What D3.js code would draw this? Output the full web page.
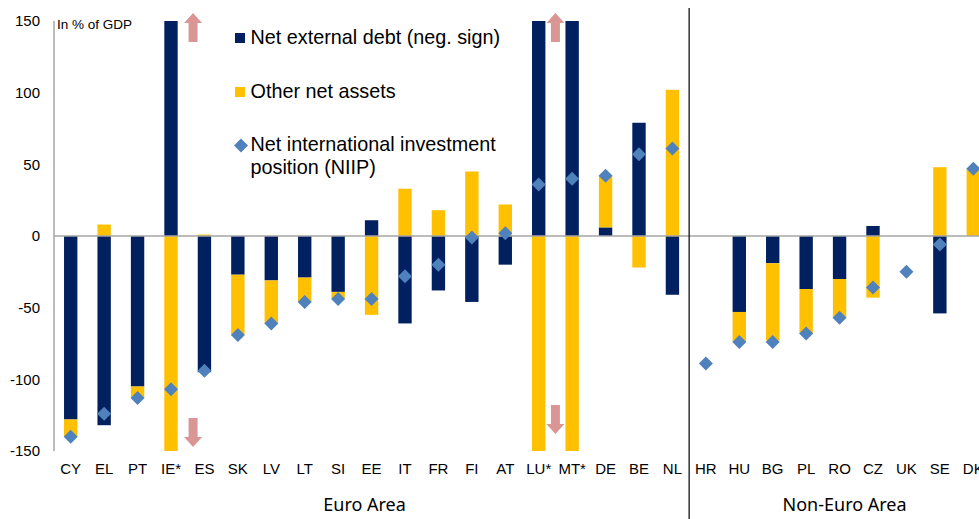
<!DOCTYPE html>
<html>
<head>
<meta charset="utf-8">
<script src="https://cdn.jsdelivr.net/npm/d3@7"></script>
<style>
  body { margin: 0; background: #fff; }
  svg { display: block; }
  text { font-family: "Liberation Sans", Arial, sans-serif; fill: #000; }
  .group-label { font-family: "Noto Sans", "Open Sans", sans-serif; font-size: 18px; }
</style>
</head>
<body>
<div id="chart"></div>
<script>
// data (in % of GDP)
var countries = ["CY", "EL", "PT", "IE*", "ES", "SK", "LV", "LT", "SI", "EE", "IT", "FR", "FI", "AT",
  "LU*", "MT*", "DE", "BE", "NL", "HR", "HU", "BG", "PL", "RO", "CZ", "UK", "SE", "DK"];
// IE*, LU* and MT* run off the scale, so their bars are estimates beyond +/-150
var netDebt = [-128, -132, -105, 160, -95, -27, -31, -29, -39, 11, -61, -38, -46, -20,
  250, 250, 6, 79, -41, null, -53, -19, -37, -30, 7, null, -54, 0];
var otherAssets = [-12, 8, -8, -267, 1, -42, -30, -17, -5, -55, 33, 18, 45, 22,
  -214, -210, 36, -22, 102, null, -21, -54, -31, -27, -43, null, 48, 47];
var niip = [-140, -124, -113, -107, -94, -69, -61, -46, -44, -44, -28, -20, -1, 2,
  36, 40, 42, 57, 61, -89, -74, -74, -68, -57, -36, -25, -6, 47];
var yTicks = [150, 100, 50, 0, -50, -100, -150];
var euroArea = countries.slice(0, 19);
var nonEuroArea = countries.slice(19);
var clippedUp = ["IE*", "MT*"];     // arrows pointing up
var clippedDown = ["IE*", "LU*"];   // arrows pointing down

var svgWidth = 979;
var svgHeight = 519;
var colors = { debt: "#002060", other: "#FFC000", niip: "#4F81BD", arrow: "#D99694", axis: "#A6A6A6" };

var svg = d3.select("#chart")
  .append("svg")
  .attr("width", svgWidth)
  .attr("height", svgHeight);

var x = d3.scaleBand()
  .domain(countries)
  .range([54, 990])
  .paddingInner(0.6)
  .paddingOuter(0.3);

var y = d3.scaleLinear()
  .domain([-150, 150])
  .range([451, 21])
  .clamp(true);

// stacked table: positive and negative parts stack separately
var table = countries.map(function(c, i) {
  return { country: c, debt: netDebt[i] || 0, other: otherAssets[i] || 0, niip: niip[i] };
});
var series = d3.stack()
  .keys(["debt", "other"])
  .offset(d3.stackOffsetDiverging)(table);

// y axis line and tick labels
svg.append("line")
  .attr("x1", 54).attr("x2", 54)
  .attr("y1", y(150)).attr("y2", y(-150))
  .attr("stroke", colors.axis)
  .attr("stroke-width", 1.5);

svg.append("g")
  .selectAll("text")
  .data(yTicks)
  .enter()
  .append("text")
  .attr("x", 40)
  .attr("y", d => y(d))
  .attr("dy", "0.36em")
  .attr("text-anchor", "end")
  .style("font-size", "15px")
  .text(d => d);

svg.append("text")
  .attr("x", 57)
  .attr("y", 29)
  .style("font-size", "13.5px")
  .text("In % of GDP");

// bars
svg.append("g")
  .selectAll("g")
  .data(series)
  .enter()
  .append("g")
  .attr("fill", d => colors[d.key])
  .selectAll("rect")
  .data(d => d)
  .enter()
  .append("rect")
  .attr("x", d => x(d.data.country))
  .attr("width", x.bandwidth())
  .attr("y", d => y(Math.max(d[0], d[1])))
  .attr("height", d => Math.abs(y(d[0]) - y(d[1])));

// zero line
svg.append("line")
  .attr("x1", 54).attr("x2", svgWidth)
  .attr("y1", y(0)).attr("y2", y(0))
  .attr("stroke", colors.axis)
  .attr("stroke-width", 1.5);

// NIIP diamonds
var diamond = "M0,-7L7,0L0,7L-7,0Z";
svg.append("g")
  .selectAll("path")
  .data(table.filter(d => d.niip != null))
  .enter()
  .append("path")
  .attr("d", diamond)
  .attr("transform", d => `translate(${x(d.country) + x.bandwidth() / 2}, ${y(d.niip)})`)
  .attr("fill", colors.niip);

// block arrows marking bars that run off the scale
var upArrow = "M0,0L9,10L4.5,10L4.5,29L-4.5,29L-4.5,10L-9,10Z";
var downArrow = "M0,0L9,-10L4.5,-10L4.5,-29L-4.5,-29L-4.5,-10L-9,-10Z";
svg.append("g")
  .selectAll("path")
  .data(clippedUp)
  .enter()
  .append("path")
  .attr("d", upArrow)
  .attr("transform", d => `translate(${x(d) + x.bandwidth() / 2 + x.step() * (d == "IE*" ? 0.66 : -0.5)}, 13)`)
  .attr("fill", colors.arrow);
svg.append("g")
  .selectAll("path")
  .data(clippedDown)
  .enter()
  .append("path")
  .attr("d", downArrow)
  .attr("transform", d => `translate(${x(d) + x.bandwidth() / 2 + x.step() * (d == "IE*" ? 0.66 : 0.5)}, ${d == "IE*" ? 447 : 434})`)
  .attr("fill", colors.arrow);

// category labels
svg.append("g")
  .selectAll("text")
  .data(countries)
  .enter()
  .append("text")
  .attr("x", d => x(d) + x.bandwidth() / 2)
  .attr("y", 474)
  .attr("text-anchor", "middle")
  .style("font-size", "15px")
  .text(d => d);

// divider between euro and non-euro area
var splitX = (x(euroArea[euroArea.length - 1]) + x(nonEuroArea[0]) + x.bandwidth()) / 2;
svg.append("line")
  .attr("x1", splitX).attr("x2", splitX)
  .attr("y1", 8).attr("y2", svgHeight)
  .attr("stroke", "#000")
  .attr("stroke-width", 1.2);

svg.append("text")
  .attr("class", "group-label")
  .attr("x", (54 + splitX) / 2 - 7)
  .attr("y", 511)
  .attr("text-anchor", "middle")
  .text("Euro Area");

svg.append("text")
  .attr("class", "group-label")
  .attr("x", (x(nonEuroArea[0]) + x(nonEuroArea[nonEuroArea.length - 1]) + x.bandwidth()) / 2 + 5)
  .attr("y", 511)
  .attr("text-anchor", "middle")
  .text("Non-Euro Area");

// legend
var legend = svg.append("g").attr("transform", "translate(235, 0)");
legend.append("rect").attr("x", 0).attr("y", 33).attr("width", 10).attr("height", 10).attr("fill", colors.debt);
legend.append("rect").attr("x", 0).attr("y", 87).attr("width", 10).attr("height", 10).attr("fill", colors.other);
legend.append("path").attr("d", diamond).attr("transform", "translate(6, 145.5)").attr("fill", colors.niip);

var legendText = [
  { y: 44, t: "Net external debt (neg. sign)" },
  { y: 98, t: "Other net assets" },
  { y: 151, t: "Net international investment" },
  { y: 174, t: "position (NIIP)" }
];
legend.selectAll("text.lg")
  .data(legendText)
  .enter()
  .append("text")
  .attr("class", "lg")
  .attr("x", 15.5)
  .attr("y", d => d.y)
  .style("font-size", "19.8px")
  .text(d => d.t);
</script>
</body>
</html>
